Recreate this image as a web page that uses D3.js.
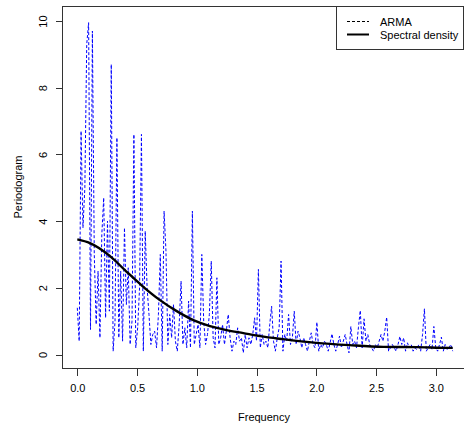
<!DOCTYPE html>
<html>
<head>
<meta charset="utf-8">
<title>Periodogram</title>
<style>
  body { margin: 0; background: #fff; }
  svg text { font-family: "Liberation Sans", Arial, sans-serif; font-size: 11px; fill: #000; }
  .frame, .ticks line { fill: none; stroke: #333; stroke-width: 1; shape-rendering: crispEdges; }
</style>
</head>
<body>
<script src="https://cdn.jsdelivr.net/npm/d3@7"></script>
<script>
// ===== data =====
// raw periodogram, 200 ordinates evenly spaced from 0 to pi
var periodogram = [
  1.4, 0.4, 6.7, 3.8, 5.0, 9.3, 9.95, 0.75, 9.7, 3.0, 0.9, 2.5, 0.5, 3.6, 4.7, 1.1, 4.0, 1.3, 8.7, 0.1,
  1.0, 6.5, 0.5, 2.5, 0.4, 3.8, 1.5, 2.6, 0.3, 1.0, 6.6, 0.2, 0.8, 2.0, 6.6, 0.1, 3.7, 2.0, 1.2, 0.3,
  0.6, 0.7, 0.2, 1.2, 3.0, 0.1, 4.3, 3.1, 0.3, 1.2, 0.5, 1.5, 0.4, 0.1, 0.9, 2.2, 0.3, 0.8, 0.2, 1.6,
  0.2, 4.3, 0.3, 0.6, 0.9, 0.2, 3.0, 1.0, 0.3, 0.6, 1.2, 2.8, 0.5, 0.2, 2.3, 0.3, 0.5, 0.9, 0.3, 0.7,
  1.2, 0.5, 0.1, 0.4, 0.3, 0.8, 0.4, 0.5, 0.05, 0.6, 0.2, 0.5, 0.3, 0.6, 1.1, 0.4, 2.55, 0.2, 0.6, 0.3,
  0.4, 0.2, 0.9, 1.45, 0.4, 0.1, 0.5, 0.8, 2.8, 0.1, 0.6, 0.4, 1.2, 0.3, 0.5, 1.3, 0.3, 0.7, 0.5, 0.2,
  0.5, 0.3, 0.1, 0.4, 0.65, 0.3, 0.2, 0.97, 0.1, 0.3, 0.2, 0.4, 0.3, 0.1, 0.35, 0.62, 0.3, 0.1, 0.3, 0.55,
  0.2, 0.4, 0.6, 0.3, 0.05, 0.84, 0.3, 0.4, 0.2, 0.8, 1.32, 0.2, 1.07, 0.4, 0.6, 0.3, 0.2, 0.1, 0.3, 0.2,
  0.4, 0.6, 0.4, 0.7, 1.12, 0.1, 0.2, 0.3, 0.2, 0.1, 0.3, 0.54, 0.3, 0.5, 0.1, 0.35, 0.2, 0.3, 0.1, 0.2,
  0.15, 0.3, 0.1, 0.6, 1.37, 0.1, 0.2, 0.3, 0.15, 0.84, 0.2, 0.1, 0.3, 0.52, 0.1, 0.3, 0.15, 0.2, 0.3, 0.1
];
var periodFreq = d3.range(periodogram.length).map(i => i * Math.PI / (periodogram.length - 1));

// theoretical spectral density, read at a few frequencies
var densFreq = [0, 0.106, 0.274, 0.413, 0.552, 0.692, 0.832, 0.971, 1.11, 1.25, 1.39, 1.53, 1.72, 2.0, 2.28, 2.56, 2.84, 3.12, Math.PI];
var densVal  = [3.45, 3.34, 2.95, 2.48, 2.03, 1.63, 1.30, 1.03, 0.85, 0.73, 0.64, 0.55, 0.46, 0.35, 0.28, 0.23, 0.22, 0.20, 0.20];

var xTicks = [0, 0.5, 1, 1.5, 2, 2.5, 3];
var yTicks = [0, 2, 4, 6, 8, 10];
var legendLabels = ["ARMA", "Spectral density"];

// ===== size =====
var svgWidth = 464, svgHeight = 423;
var box = { left: 62, top: 6, right: 466, bottom: 368 };

var xScale = d3.scaleLinear().domain([0, 3]).range([77.3, 435.8]);
var yScale = d3.scaleLinear().domain([0, 10]).range([354.5, 21]);

var svg = d3.select("body").append("svg")
    .attr("width", svgWidth).attr("height", svgHeight);

svg.append("clipPath").attr("id", "plotclip")
  .append("rect")
    .attr("x", box.left).attr("y", box.top)
    .attr("width", box.right - box.left).attr("height", box.bottom - box.top);

// 折线 periodogram
var plotG = svg.append("g").attr("clip-path", "url(#plotclip)");
var pline = d3.line()
    .x((d, i) => xScale(periodFreq[i]))
    .y(d => yScale(d));
plotG.append("path")
    .attr("d", pline(periodogram))
    .attr("fill", "none")
    .attr("stroke", "#0000ff")
    .attr("stroke-width", 1)
    .attr("stroke-dasharray", "3,2");

// smooth density
var dline = d3.line()
    .x((d, i) => xScale(densFreq[i]))
    .y(d => yScale(d))
    .curve(d3.curveMonotoneX);
plotG.append("path")
    .attr("d", dline(densVal))
    .attr("fill", "none")
    .attr("stroke", "#000")
    .attr("stroke-width", 2.4);

// frame
svg.append("rect").attr("class", "frame")
    .attr("x", box.left + 0.5).attr("y", box.top + 0.5)
    .attr("width", box.right - box.left).attr("height", box.bottom - box.top);

// axes (R style: ticks outside the frame)
var xAxis = d3.axisBottom(xScale).tickValues(xTicks).tickSize(7).tickPadding(9)
    .tickFormat(d3.format(".1f"));
var gx = svg.append("g").attr("class", "ticks")
    .attr("transform", "translate(0," + (box.bottom + 0.5) + ")")
    .call(xAxis);
gx.select(".domain").remove();

var yAxis = d3.axisLeft(yScale).tickValues(yTicks).tickSize(7).tickPadding(0)
    .tickFormat(d3.format("d"));
var gy = svg.append("g").attr("class", "ticks")
    .attr("transform", "translate(" + (box.left + 0.5) + ",0)")
    .call(yAxis);
gy.select(".domain").remove();
gy.selectAll("text")
    .attr("x", null).attr("dy", null)
    .attr("text-anchor", "middle")
    .attr("transform", "translate(-20,0) rotate(-90)")
    .attr("dominant-baseline", "central");

svg.selectAll(".ticks text").style("font-size", "11px").attr("fill", "#000");

// axis titles
svg.append("text")
    .attr("x", (box.left + box.right) / 2).attr("y", 421)
    .attr("text-anchor", "middle")
    .text("Frequency");
svg.append("text")
    .attr("transform", "translate(22," + ((box.top + box.bottom) / 2) + ") rotate(-90)")
    .attr("text-anchor", "middle")
    .text("Periodogram");

// legend
var lg = svg.append("g");
lg.append("rect")
    .attr("x", 336.5).attr("y", box.top + 0.5)
    .attr("width", 127).attr("height", 43)
    .attr("fill", "#fff").attr("stroke", "#333").attr("shape-rendering", "crispEdges");
var legendY = [21.5, 34.5];
lg.append("line")
    .attr("x1", 347).attr("x2", 369).attr("y1", legendY[0]).attr("y2", legendY[0])
    .attr("stroke", "#000").attr("stroke-width", 1).attr("stroke-dasharray", "3,2");
lg.append("line")
    .attr("x1", 347).attr("x2", 369).attr("y1", legendY[1]).attr("y2", legendY[1])
    .attr("stroke", "#000").attr("stroke-width", 2);
lg.selectAll("text.lab").data(legendLabels).enter().append("text")
    .attr("class", "lab")
    .attr("x", 380)
    .attr("y", (d, i) => legendY[i])
    .attr("dominant-baseline", "central")
    .text(d => d);
</script>
</body>
</html>
